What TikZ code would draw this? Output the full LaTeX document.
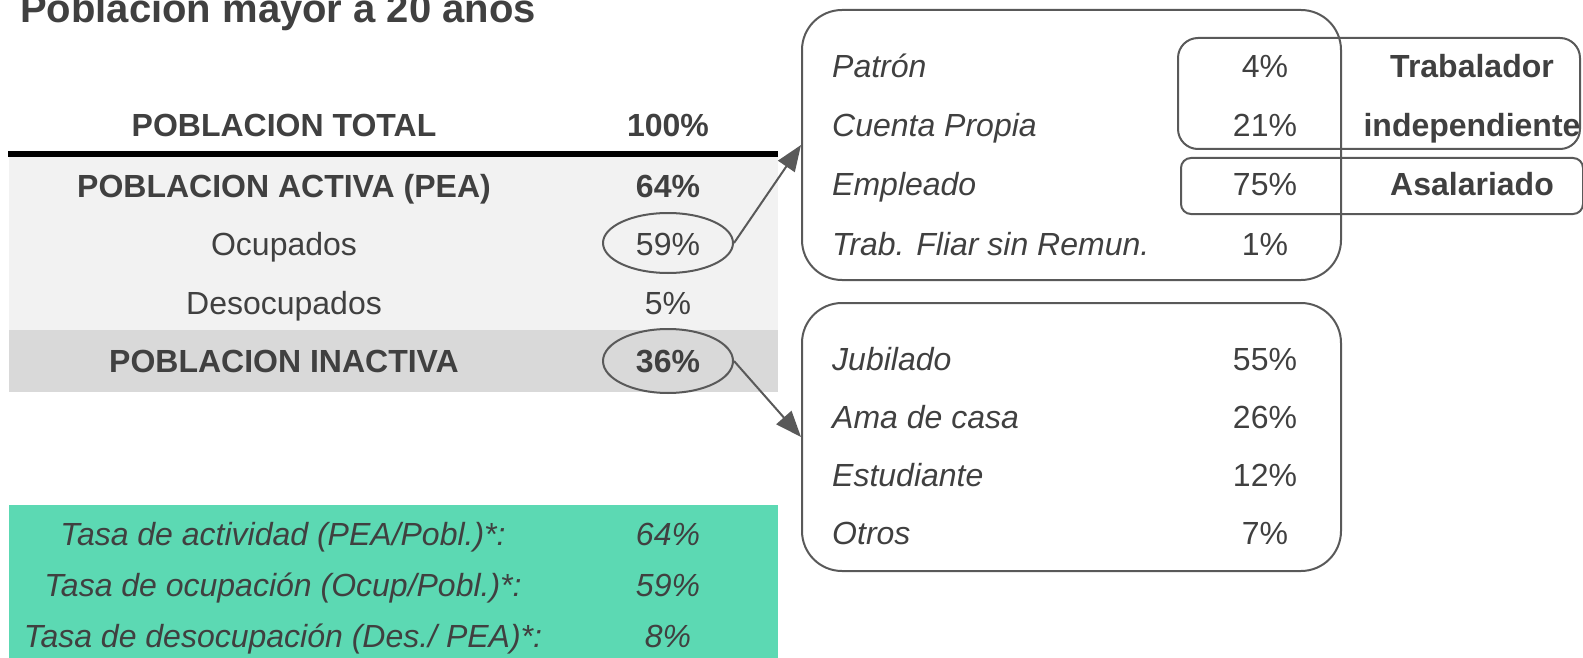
\documentclass[tikz,border=0pt]{standalone}
\usepackage{fontspec}
\setmainfont{Liberation Sans}
\usetikzlibrary{arrows.meta,shapes.geometric}
\definecolor{txt}{HTML}{404040}
\definecolor{edge}{HTML}{595959}
\definecolor{band}{HTML}{F2F2F2}
\definecolor{bandd}{HTML}{D9D9D9}
\definecolor{tasa}{HTML}{5CD9B3}

\begin{document}
\begin{tikzpicture}[x=1pt,y=-1pt,
  every node/.style={text=txt,inner sep=0pt,font=\fontsize{32}{38}\selectfont},
  lbl/.style={anchor=base},
  hdr/.style={anchor=base,font=\fontsize{32}{38}\selectfont\bfseries},
  itl/.style={anchor=base,font=\fontsize{32}{38}\selectfont\itshape},
  item/.style={anchor=base west,font=\fontsize{32}{38}\selectfont\itshape},
  ring/.style={draw=edge,line width=2pt,ellipse,minimum width=130pt},
  box/.style={draw=edge,line width=2pt,anchor=north west,rounded corners=40pt},
  tag/.style={draw=edge,line width=2pt,anchor=north west},
  link/.style={draw=edge,line width=2pt,-{Triangle[length=26pt,width=20pt]}}]
  \useasboundingbox (0,0) rectangle (1583,658);

  \node[anchor=base west,font=\fontsize{40}{48}\selectfont\bfseries] (title) at (20,23) {Poblacion mayor a 20 años};

  \fill[band] (9,157) rectangle (778,330);
  \fill[bandd] (9,330) rectangle (778,392);
  \fill[tasa] (9,505) rectangle (778,658);
  \draw[line width=5.5pt] (8,154) -- (778,154);

  \node[hdr] (tot) at (284,137) {POBLACION TOTAL};
  \node[hdr] (totv) at (668,137) {100\%};
  \node[hdr] (pea) at (284,197) {POBLACION ACTIVA (PEA)};
  \node[hdr] (peav) at (668,197) {64\%};
  \node[lbl] (ocu) at (284,255) {Ocupados};
  \node[lbl] (ocuv) at (668,255) {59\%};
  \node[lbl] (des) at (284,314) {Desocupados};
  \node[lbl] (desv) at (668,314) {5\%};
  \node[hdr] (ina) at (284,372) {POBLACION INACTIVA};
  \node[hdr] (inav) at (668,372) {36\%};

  \node[ring,minimum height=60pt] (el59) at (668,243) {};
  \node[ring,minimum height=64pt] (el36) at (668,361) {};

  \node[itl] (ta) at (283,545) {Tasa de actividad (PEA/Pobl.)*:};
  \node[itl] (tav) at (668,545) {64\%};
  \node[itl] (to) at (283,596) {Tasa de ocupación (Ocup/Pobl.)*:};
  \node[itl] (tov) at (668,596) {59\%};
  \node[itl] (td) at (283,647) {Tasa de desocupación (Des./ PEA)*:};
  \node[itl] (tdv) at (668,647) {8\%};

  \node[box,minimum width=539pt,minimum height=270pt] (ocup) at (801,9) {};
  \node[item] (pat) at (832,78) {Patrón};
  \node[lbl] (patv) at (1265,78) {4\%};
  \node[item] (cta) at (832,137) {Cuenta Propia};
  \node[lbl] (ctav) at (1265,137) {21\%};
  \node[item] (emp) at (832,196) {Empleado};
  \node[lbl] (empv) at (1265,196) {75\%};
  \node[item] (fli) at (832,255) {Trab. Fliar sin Remun.};
  \node[lbl] (fliv) at (1265,255) {1\%};

  \node[tag,rounded corners=20pt,minimum width=402pt,minimum height=111pt] (indep) at (1177,37) {};
  \node[hdr] (indep1) at (1472,78) {Trabalador};
  \node[hdr] (indep2) at (1472,137) {independiente};
  \node[tag,rounded corners=10pt,minimum width=402pt,minimum height=56pt] (asal) at (1180,157) {};
  \node[hdr] (asal1) at (1472,196) {Asalariado};

  \node[box,minimum width=539pt,minimum height=268pt] (inact) at (801,302) {};
  \node[item] (jub) at (832,370) {Jubilado};
  \node[lbl] (jubv) at (1265,370) {55\%};
  \node[item] (ama) at (832,428) {Ama de casa};
  \node[lbl] (amav) at (1265,428) {26\%};
  \node[item] (est) at (832,486) {Estudiante};
  \node[lbl] (estv) at (1265,486) {12\%};
  \node[item] (otr) at (832,544) {Otros};
  \node[lbl] (otrv) at (1265,544) {7\%};

  \draw[link] (el59.east) -- (ocup.west);
  \draw[link] (el36.east) -- (inact.west);

\end{tikzpicture}
\end{document}
